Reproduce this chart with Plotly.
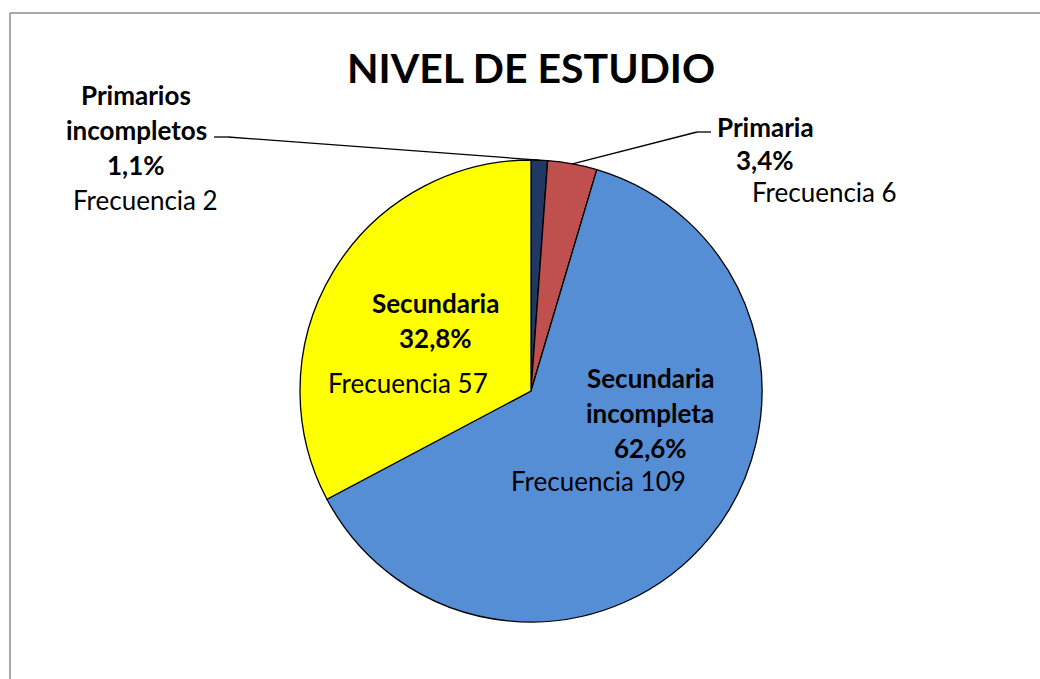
import math
import plotly.graph_objects as go

# DATOS
categorias   = ["Primarios incompletos", "Primaria", "Secundaria incompleta", "Secundaria"]
frecuencias  = [2, 6, 109, 57]
colores      = ["#1F3864", "#C0504D", "#558ED5", "#FFFF00"]
titulo       = "NIVEL DE ESTUDIO"

# geometria (pixeles de la pagina)
W, H = 1040, 679
cx, cy, r = 531, 391, 231
fuente = "Lato, 'Open Sans', sans-serif"
t_negrita, t_normal = 26, 26


def px(x, y):
    # pixeles -> coordenadas paper
    return x / W, 1 - y / H


total = sum(frecuencias)
pct = [f / total * 100 for f in frecuencias]

x0d, y1d = px(cx - r, cy - r)
x1d, y0d = px(cx + r, cy + r)

fig = go.Figure()
fig.add_trace(go.Pie(
    labels=categorias, values=frecuencias,
    sort=False, direction="clockwise", rotation=0,
    marker=dict(colors=colores, line=dict(color="black", width=1.3)),
    textinfo="none", hoverinfo="label+percent",
    domain=dict(x=[x0d, x1d], y=[y0d, y1d]),
    showlegend=False,
))

# punto medio de cada porcion sobre el borde
acum = 0
bordes = []
for p in pct:
    ang = math.radians((acum + p / 2) * 3.6)
    bordes.append((cx + r * math.sin(ang), cy - r * math.cos(ang)))
    acum += p


def texto(t, x, y, size):
    a, b = px(x, y)
    return dict(text=t, x=a, y=b, xref="paper", yref="paper", xanchor="center", yanchor="middle",
                showarrow=False, font=dict(family=fuente, size=size, color="black"))


def etiq(nombre_lineas, i, pos, pos_frec, dy=35):
    x, y = pos
    lineas = nombre_lineas + [f"{pct[i]:.1f}%".replace(".", ",")]
    anns = [texto(f"<b>{t}</b>", x, y + k * dy, t_negrita) for k, t in enumerate(lineas)]
    anns.append(texto(f"Frecuencia {frecuencias[i]}", pos_frec[0], pos_frec[1], t_normal))
    return anns


anotaciones = []
anotaciones += etiq(["Primarios", "incompletos"], 0, (136, 95), (145, 200))
anotaciones += etiq(["Primaria"], 1, (765, 127), (824, 192), dy=33)
anotaciones += etiq(["Secundaria", "incompleta"], 2, (650, 378), (598, 481))
anotaciones += etiq(["Secundaria"], 3, (435, 303), (408, 383))
anotaciones.append(texto(f"<b>{titulo}</b>", cx, 68, 41))


def linea(p0, p1, color="black", ancho=1.3):
    a0, b0 = px(*p0)
    a1, b1 = px(*p1)
    return dict(type="line", xref="paper", yref="paper", x0=a0, y0=b0, x1=a1, y1=b1,
                line=dict(color=color, width=ancho))


# lineas guia
formas = []
guias = [
    (0, [(214, 137), (228, 137)]),
    (1, [(711, 132), (697, 132)]),
]
for i, pts in guias:
    camino = pts + [bordes[i]]
    for pa, pb in zip(camino[:-1], camino[1:]):
        formas.append(linea(pa, pb))

# marco del grafico (solo se ven el borde superior e izquierdo)
formas.append(linea((10, 13), (1100, 13), "#8C8C8C", 1.5))
formas.append(linea((10, 13), (10, 750), "#8C8C8C", 1.5))

fig.update_layout(
    width=W, height=H,
    margin=dict(l=0, r=0, t=0, b=0),
    paper_bgcolor="white", plot_bgcolor="white",
    annotations=anotaciones, shapes=formas,
    font=dict(family=fuente),
)

# sin margen en el body para que la figura ocupe toda la ventana
fig.write_html("out.html", config=dict(displayModeBar=False),
               post_script="document.body.style.margin='0';document.body.style.overflow='hidden';")
